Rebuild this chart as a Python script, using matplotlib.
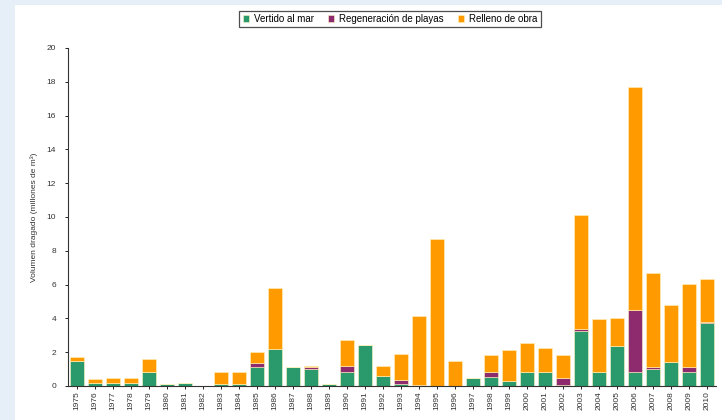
import matplotlib
matplotlib.use("Agg")
import matplotlib.pyplot as plt
import numpy as np
from matplotlib.patches import Rectangle

plt.rcParams["font.family"] = ["Liberation Sans", "DejaVu Sans"]

years = [str(y) for y in range(1975, 2011)]
vertido = [1.5, 0.2, 0.2, 0.2, 0.8, 0.1, 0.2, 0.0, 0.1, 0.1,
           1.15, 2.2, 1.1, 1.0, 0.1, 0.8, 2.45, 0.6, 0.1, 0.05,
           0.0, 0.0, 0.45, 0.55, 0.3, 0.85, 0.85, 0.05, 3.25, 0.85,
           2.35, 0.8, 1.0, 1.4, 0.85, 3.7]
regeneracion = [0.0, 0.0, 0.0, 0.0, 0.0, 0.0, 0.0, 0.0, 0.0, 0.0,
                0.2, 0.0, 0.0, 0.15, 0.0, 0.4, 0.0, 0.0, 0.25, 0.0,
                0.0, 0.0, 0.0, 0.3, 0.0, 0.0, 0.0, 0.4, 0.1, 0.0,
                0.0, 3.7, 0.15, 0.0, 0.3, 0.1]
relleno = [0.2, 0.2, 0.3, 0.3, 0.8, 0.0, 0.0, 0.02, 0.7, 0.7,
           0.65, 3.6, 0.0, 0.05, 0.0, 1.55, 0.0, 0.6, 1.55, 4.1,
           8.7, 1.48, 0.0, 1.0, 1.85, 1.7, 1.4, 1.4, 6.75, 3.1,
           1.7, 13.2, 5.55, 3.4, 4.9, 2.55]

c_green = "#2a9a6c"
c_purple = "#8e2a6e"
c_orange = "#ff9a00"

fig = plt.figure(figsize=(7.22, 4.20), dpi=100)
fig.patch.set_facecolor("#e6eff8")
bg = Rectangle((15/722, 0), 1 - 15/722, 1 - 5/420,
               transform=fig.transFigure, facecolor="white",
               edgecolor="none", zorder=-10)
fig.patches.append(bg)

ax = fig.add_axes([68/722, 1 - 386/420, (716 - 68)/722, (386 - 48)/420])
ax.set_zorder(5)
ax.set_facecolor("none")
x = np.arange(len(years))
v = np.array(vertido)
r = np.array(regeneracion)
o = np.array(relleno)
w = 0.78
ax.bar(x, v, w, color=c_green, label="Vertido al mar", edgecolor="#fff4c0", linewidth=0.4)
ax.bar(x, r, w, bottom=v, color=c_purple, label="Regeneración de playas", edgecolor="#fff4c0", linewidth=0.4)
ax.bar(x, o, w, bottom=v + r, color=c_orange, label="Relleno de obra", edgecolor="#fff4c0", linewidth=0.4)

ax.set_ylim(0, 20)
ax.set_xlim(-0.5, len(years) - 0.5)
ax.set_yticks(range(0, 21, 2))
ax.set_yticklabels([str(t) for t in range(0, 21, 2)], fontsize=6, color="#333333")
ax.set_xticks(x)
ax.set_xticklabels(years, rotation=90, fontsize=6, color="#333333")
ax.tick_params(axis="y", length=2.5, width=0.6, pad=6)
ax.tick_params(axis="x", length=2, width=0.6, pad=2)
for s in ["top", "right"]:
    ax.spines[s].set_visible(False)
for s in ["left", "bottom"]:
    ax.spines[s].set_linewidth(0.8)
    ax.spines[s].set_color("#333333")
ax.set_ylabel("Volumen dragado (millones de m³)", fontsize=6, color="#333333", labelpad=6)

leg = fig.legend(loc="center", bbox_to_anchor=(390/722, 1 - 19/420), ncol=3,
                 fontsize=7, frameon=True, fancybox=False, edgecolor="#222222",
                 handlelength=0.6, handleheight=0.6, handletextpad=0.5,
                 columnspacing=1.5, borderpad=0.35)
leg.get_frame().set_linewidth(0.9)
leg.set_zorder(10)

fig.savefig("out.png", dpi=100, facecolor=fig.get_facecolor())
